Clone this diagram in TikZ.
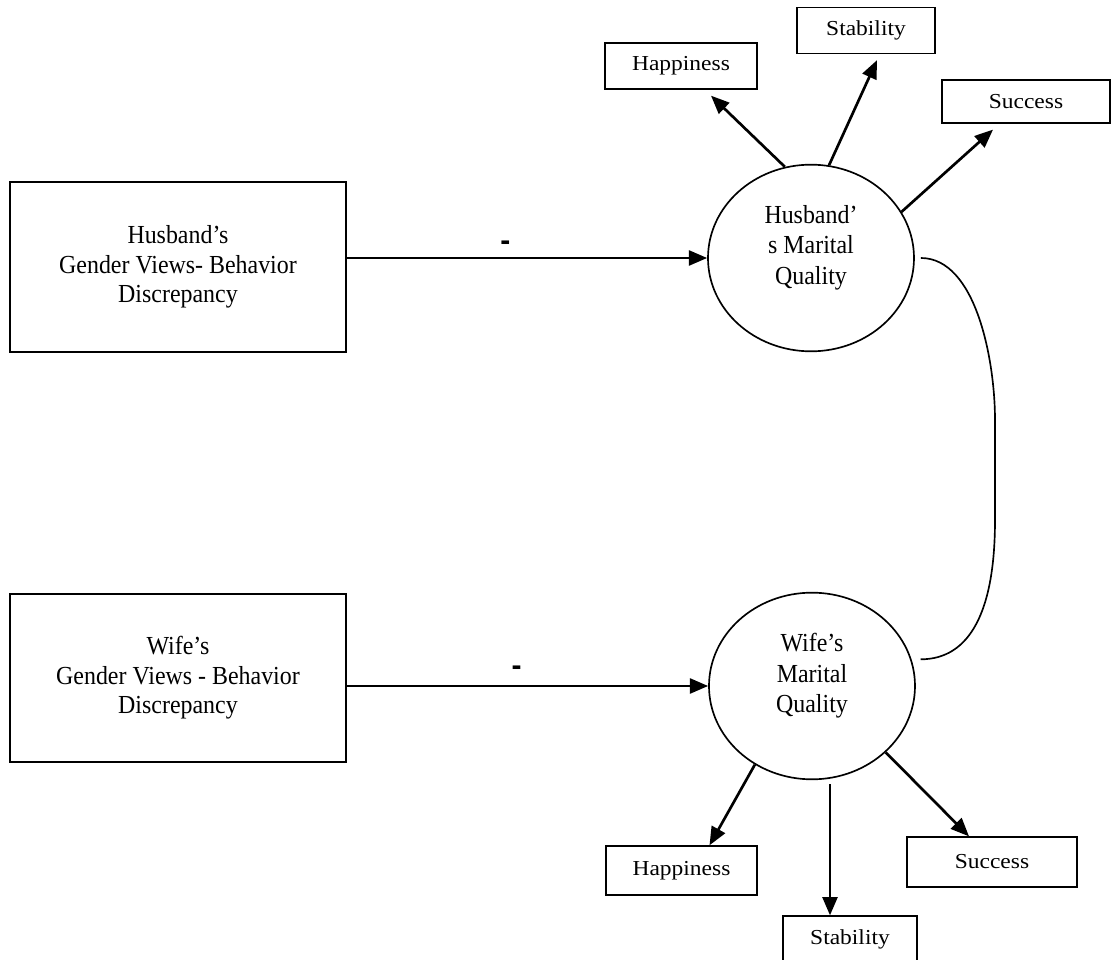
\documentclass[tikz,border=0pt]{standalone}
\usepackage{fontspec}
\setmainfont{Liberation Serif}[FakeStretch=0.92]
\setsansfont{Liberation Sans}
\newfontfamily\widefont{Liberation Serif}[FakeStretch=1.1]
\usetikzlibrary{calc,shapes.geometric,arrows.meta}

\begin{document}
\begin{tikzpicture}[x=0.6pt, y=-0.6pt,
        every node/.style={align=center, font=\fontsize{15.6}{17.7}\selectfont},
        bigbox/.style={draw, line width=0.8pt, minimum width=201.6pt, minimum height=#1},
        smallbox/.style={draw, line width=0.8pt, minimum width=#1, minimum height=27.6pt, inner sep=1pt, font=\widefont\fontsize{12.8}{15}\selectfont},
        quality/.style={ellipse, draw, line width=1pt, minimum width=123.6pt, minimum height=112pt},
        qtext/.style={yshift=6.2pt, font=\fontsize{15.6}{18.3}\selectfont},
        sign/.style={inner sep=0pt, font=\sffamily\bfseries\fontsize{18}{18}\selectfont},
        arr/.style={line width=1.6pt, -{Triangle[length=11pt,width=9pt]}},
        link/.style={line width=1pt}]
        \useasboundingbox (0,0) rectangle (1111,960);
        \clip (0,0) rectangle (1111,960);

        \node[bigbox=102pt] (hbox) at (178,267) {Husband’s\\Gender Views- Behavior\\Discrepancy};
        \node[bigbox=100.8pt] (wbox) at (178,678) {Wife’s\\Gender Views - Behavior\\Discrepancy};

        \node[quality, label={[qtext]center:{Husband’\\s Marital\\Quality}}] (hq) at (811,258) {};
        \node[quality, label={[qtext]center:{Wife’s\\Marital\\Quality}}] (wq) at (812,686) {};

        \node[smallbox=91.2pt] (hhap) at (681,66) {Happiness};
        \node[smallbox=82.8pt] (hstab) at (866,30.5) {Stability};
        \node[smallbox=100.8pt, minimum height=25.8pt] (hsucc) at (1026,101.5) {Success};

        \node[smallbox=90.6pt, minimum height=29.4pt] (whap) at (681.5,870.5) {Happiness};
        \node[smallbox=80.4pt] (wstab) at (850,939) {Stability};
        \node[smallbox=102pt, minimum height=30pt] (wsucc) at (992,862) {Success};

        \draw[arr] (hbox.east |- hq.west) -- node[sign, pos=0.44, above=3.5pt] (hminus) {-} (hq.west);
        \draw[arr] (wbox.east |- wq.west) -- node[sign, pos=0.47, above=5.2pt] (wminus) {-} (wq.west);

        \draw[arr] (hq.106) -- ($(hhap.south)+(30,6)$);
        \draw[arr] (hq.79) -- ($(hstab.south)+(11,6)$);
        \draw[arr] (hq.27) -- ($(hsucc.south)+(-33,6)$);

        \draw[arr] (wq.234) -- ($(whap.north)+(28,0)$);
        \draw[arr] ($(wq.south)+(18,4)$) -- ($(wstab.north)+(-20,0)$);
        \draw[arr] (wq.-42) -- ($(wsucc.north)+(-23,0)$);

        \coordinate (hlink) at ($(hq.east)+(6,0)$);
        \coordinate (wlink) at ($(wq.15)+(9,0)$);
        \draw[link] (hlink) .. controls +(55,0) and +(0,-60) .. (995,420)
            -- (995,520) .. controls +(0,90) and +(50,0) .. (wlink);
    \end{tikzpicture}
\end{document}
